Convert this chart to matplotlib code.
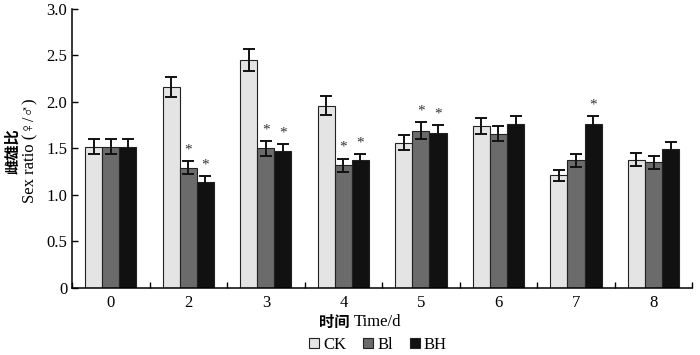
import numpy as np
import matplotlib
matplotlib.use("Agg")
import matplotlib.pyplot as plt
from matplotlib.patches import Patch

days = ["0", "2", "3", "4", "5", "6", "7", "8"]
groups = ["CK", "Bl", "BH"]
ck = [1.52, 2.16, 2.45, 1.96, 1.56, 1.74, 1.21, 1.38]
bl = [1.52, 1.29, 1.50, 1.32, 1.69, 1.66, 1.37, 1.35]
bh = [1.52, 1.14, 1.47, 1.38, 1.67, 1.76, 1.76, 1.49]
ck_err = [0.08, 0.11, 0.12, 0.10, 0.08, 0.09, 0.06, 0.07]
bl_err = [0.08, 0.07, 0.08, 0.07, 0.09, 0.08, 0.07, 0.07]
bh_err = [0.08, 0.06, 0.08, 0.06, 0.08, 0.09, 0.09, 0.08]
# which bars get a significance star
ck_sig = [0, 0, 0, 0, 0, 0, 0, 0]
bl_sig = [0, 1, 1, 1, 1, 0, 0, 0]
bh_sig = [0, 1, 1, 1, 1, 0, 1, 0]

serif = ["Liberation Serif", "DejaVu Sans"]
cjk = ["Noto Sans CJK SC", "DejaVu Sans"]
plt.rcParams["font.family"] = serif

fig = plt.figure(figsize=(7, 3.55), dpi=100)
ax = fig.add_axes([0.103, 0.189, 0.886, 0.786])

x = np.arange(len(days))
w = 0.22
colors = ["#e4e4e4", "#6b6b6b", "#111111"]
series = [(ck, ck_err, ck_sig), (bl, bl_err, bl_sig), (bh, bh_err, bh_sig)]
for i, (vals, errs, sig) in enumerate(series):
    pos = x + (i - 1) * w
    ax.bar(pos, vals, w, color=colors[i], edgecolor="#222222", linewidth=0.8)
    ax.errorbar(pos, vals, yerr=errs, fmt="none", ecolor="#111111",
                elinewidth=1.4, capsize=4, capthick=1.4)
    for p, v, e, s in zip(pos, vals, errs, sig):
        if s:
            ax.text(p, v + e + 0.05, "*", ha="center", va="bottom",
                    fontsize=11, color="#333333")

ax.set_xlim(-0.5, 7.5)
ax.set_ylim(0, 3.0)
ax.set_yticks(np.arange(0, 3.01, 0.5))
ax.set_yticklabels(["0", "0.5", "1.0", "1.5", "2.0", "2.5", "3.0"])
ax.set_xticks(x)
ax.set_xticklabels(days)
ax.set_xticks(np.arange(-0.5, 7.6, 1.0), minor=True)
ax.tick_params(axis="x", which="major", length=0, labelsize=12, pad=5)
ax.tick_params(axis="x", which="minor", direction="in", length=4, width=1)
ax.tick_params(axis="y", direction="in", length=4, width=1, labelsize=12)
for side in ["top", "right"]:
    ax.spines[side].set_visible(False)
for side in ["left", "bottom"]:
    ax.spines[side].set_linewidth(1.1)

fig.text(0.5, 0.093, "时间", ha="right", va="center", fontsize=11,
         family=cjk, fontweight="bold")
fig.text(0.505, 0.093, "Time/d", ha="left", va="center", fontsize=12,
         family=serif)
fig.text(0.018, 0.575, "雌雄比", rotation=90, ha="center", va="center",
         fontsize=11, family=cjk, fontweight="bold")
fig.text(0.044, 0.575, "Sex ratio (♀/♂)", rotation=90, ha="center",
         va="center", fontsize=12, family=serif)

handles = [Patch(facecolor=colors[i], edgecolor="#222222", linewidth=0.8)
           for i in range(3)]
fig.legend(handles, groups, loc="center", bbox_to_anchor=(0.54, 0.028),
           ncol=3, frameon=False, fontsize=12, handlelength=0.6,
           handleheight=0.6, handletextpad=0.25, columnspacing=1.0,
           borderpad=0)

fig.savefig("out.png", dpi=100)
